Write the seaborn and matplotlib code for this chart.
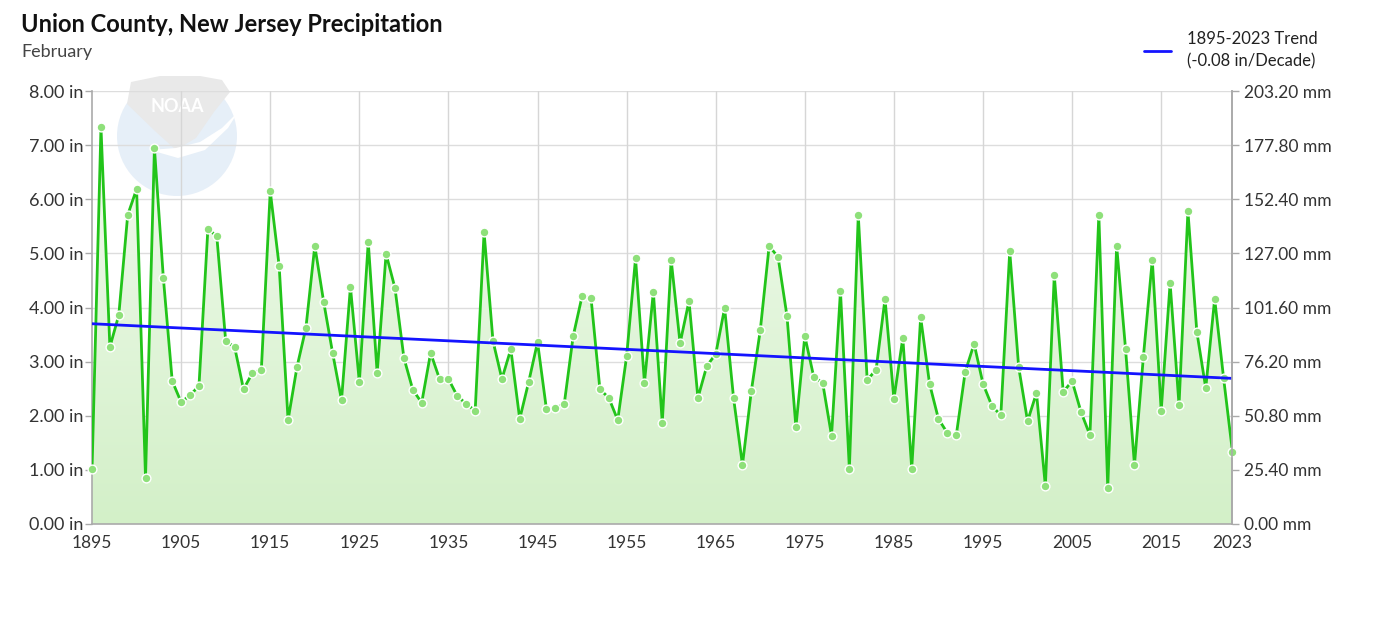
import matplotlib.pyplot as plt
import matplotlib.patches as mpatches
from matplotlib.colors import LinearSegmentedColormap
import seaborn as sns
import numpy as np
import pandas as pd

# February precipitation, Union County NJ (inches)
years = list(range(1895, 2024))
precip = [
    1.02, 7.33, 3.27, 3.86, 5.71, 6.19, 0.85, 6.95, 4.55, 2.64,
    2.25, 2.38, 2.55, 5.45, 5.32, 3.38, 3.27, 2.49, 2.79, 2.85,
    6.15, 4.77, 1.92, 2.90, 3.62, 5.14, 4.10, 3.16, 2.29, 4.38,
    2.62, 5.21, 2.79, 4.99, 4.36, 3.07, 2.48, 2.24, 3.16, 2.68,
    2.68, 2.36, 2.22, 2.09, 5.39, 3.38, 2.68, 3.23, 1.94, 2.62,
    3.36, 2.12, 2.14, 2.22, 3.47, 4.21, 4.18, 2.49, 2.33, 1.92,
    3.10, 4.91, 2.61, 4.29, 1.87, 4.88, 3.34, 4.12, 2.33, 2.92,
    3.14, 3.99, 2.33, 1.09, 2.46, 3.58, 5.14, 4.93, 3.84, 1.79,
    3.47, 2.72, 2.61, 1.63, 4.30, 1.02, 5.71, 2.66, 2.85, 4.16,
    2.31, 3.44, 1.02, 3.82, 2.59, 1.94, 1.68, 1.64, 2.81, 3.33,
    2.59, 2.18, 2.01, 5.04, 2.90, 1.90, 2.42, 0.70, 4.60, 2.44,
    2.64, 2.07, 1.64, 5.71, 0.67, 5.14, 3.23, 1.09, 3.09, 4.88,
    2.09, 4.45, 2.20, 5.78, 3.55, 2.51, 4.16, 2.70, 1.33,
]
trend_years = [1895, 2023]
trend_vals = [3.70, 2.69]
trend_label = "1895-2023 Trend\n(-0.08 in/Decade)"
x_ticks = [1895, 1905, 1915, 1925, 1935, 1945, 1955, 1965, 1975, 1985, 1995, 2005, 2015, 2023]
y_ticks_in = [0, 1, 2, 3, 4, 5, 6, 7, 8]

df = pd.DataFrame({'year': years, 'precip': precip})

sns.set_style('white')
plt.rcParams['font.family'] = ['Lato', 'DejaVu Sans']

W, H = 1374, 620
fig = plt.figure(figsize=(W / 100, H / 100), dpi=100, facecolor='white')
ax = fig.add_axes([0.067, 0.155, 0.830, 0.698])
ax.set_facecolor('none')

ax.set_xlim(1895, 2023)
ax.set_ylim(0, 8)


def px(pts):
    # reference pixel coords (y down) -> display coords
    return [[x, H - y] for x, y in pts]


# faint NOAA watermark, behind the axes
fig.patches.append(mpatches.Circle((177, H - 136), 60, transform=None,
                                   facecolor='#e6eff8', edgecolor='none', zorder=-3))
fig.patches.append(mpatches.Polygon(px([(127, 104), (131, 82), (160, 76), (200, 76),
                                        (222, 80), (230, 92), (214, 112), (196, 138),
                                        (176, 150), (156, 132)]),
                                    closed=True, transform=None, facecolor='#e9e9e9',
                                    edgecolor='none', zorder=-2))
fig.patches.append(mpatches.Polygon(px([(150, 150), (178, 158), (205, 150), (228, 128),
                                        (238, 112), (222, 128), (200, 142), (176, 148)]),
                                    closed=True, transform=None, facecolor='white',
                                    edgecolor='none', zorder=-2))
fig.text(177 / W, 1 - 107 / H, 'NOAA', ha='center', va='center',
         color='white', fontsize=13, fontweight='bold', zorder=-1)

# grid
for yv in y_ticks_in[1:]:
    ax.axhline(yv, color='#dddddd', lw=1, zorder=0)
for xv in x_ticks[1:-1]:
    ax.axvline(xv, color='#d6d6d6', lw=1, zorder=0)

# gradient area under the line
grad = np.linspace(0, 1, 256).reshape(-1, 1)
cmap = LinearSegmentedColormap.from_list('g', ['#d3f0c8', '#f3fbf0'])
img = ax.imshow(grad, cmap=cmap, aspect='auto', origin='lower',
                extent=[1895, 2023, 0, 8], zorder=1)
poly_x = np.concatenate([[years[0]], years, [years[-1]]])
poly_y = np.concatenate([[0], precip, [0]])
clip = mpatches.Polygon(np.column_stack([poly_x, poly_y]), closed=True,
                        transform=ax.transData, facecolor='none', edgecolor='none')
ax.add_patch(clip)
img.set_clip_path(clip)

sns.lineplot(data=df, x='year', y='precip', ax=ax, color='#22c41a', lw=2, zorder=3)
ax.scatter(df['year'], df['precip'], s=40, color='#8ee07a', edgecolor='white',
           linewidth=1, zorder=4, clip_on=False)
ax.plot(trend_years, trend_vals, color='#1414ff', lw=2, zorder=5, label=trend_label)

ax.set_xlabel('')
ax.set_ylabel('')
ax.set_xticks(x_ticks)
ax.set_xticklabels([str(v) for v in x_ticks])
ax.set_yticks(y_ticks_in)
ax.set_yticklabels([f'{v:.2f} in' for v in y_ticks_in])
ax.tick_params(axis='x', labelsize=12.5, colors='#333333', length=5, width=1, pad=3)
ax.tick_params(axis='y', labelsize=13, colors='#333333', length=5, width=1, pad=1.5)
ax.tick_params(axis='both', color='#aaaaaa')
ax.spines['top'].set_visible(False)
for s in ['left', 'bottom', 'right']:
    ax.spines[s].set_color('#aaaaaa')
    ax.spines[s].set_linewidth(1.2)

ax2 = ax.twinx()
ax2.set_facecolor('none')
ax2.set_ylim(0, 8 * 25.4)
ax2.set_yticks([v * 25.4 for v in y_ticks_in])
ax2.set_yticklabels([f'{v * 25.4:.2f} mm' for v in y_ticks_in])
ax2.tick_params(axis='y', labelsize=12.5, colors='#333333', length=5, width=1)
ax2.tick_params(axis='y', color='#aaaaaa')
for s in ['top', 'left', 'bottom']:
    ax2.spines[s].set_visible(False)
ax2.spines['right'].set_color('#aaaaaa')
ax2.spines['right'].set_linewidth(1.2)

fig.text(21 / W, 1 - 24 / H, 'Union County, New Jersey Precipitation',
         fontsize=17, fontweight='bold', color='#111111', va='center')
fig.text(21 / W, 1 - 52 / H, 'February', fontsize=13, color='#444444', va='center')

leg = fig.legend(handles=ax.get_lines()[-1:], loc='upper right',
                 bbox_to_anchor=(1333 / W, 1 - 16 / H), frameon=False,
                 fontsize=12, handlelength=1.6, handletextpad=1.0)
for t in leg.get_texts():
    t.set_color('#222222')
    t.set_linespacing(1.5)

fig.savefig('out.png', dpi=100, facecolor='white')
